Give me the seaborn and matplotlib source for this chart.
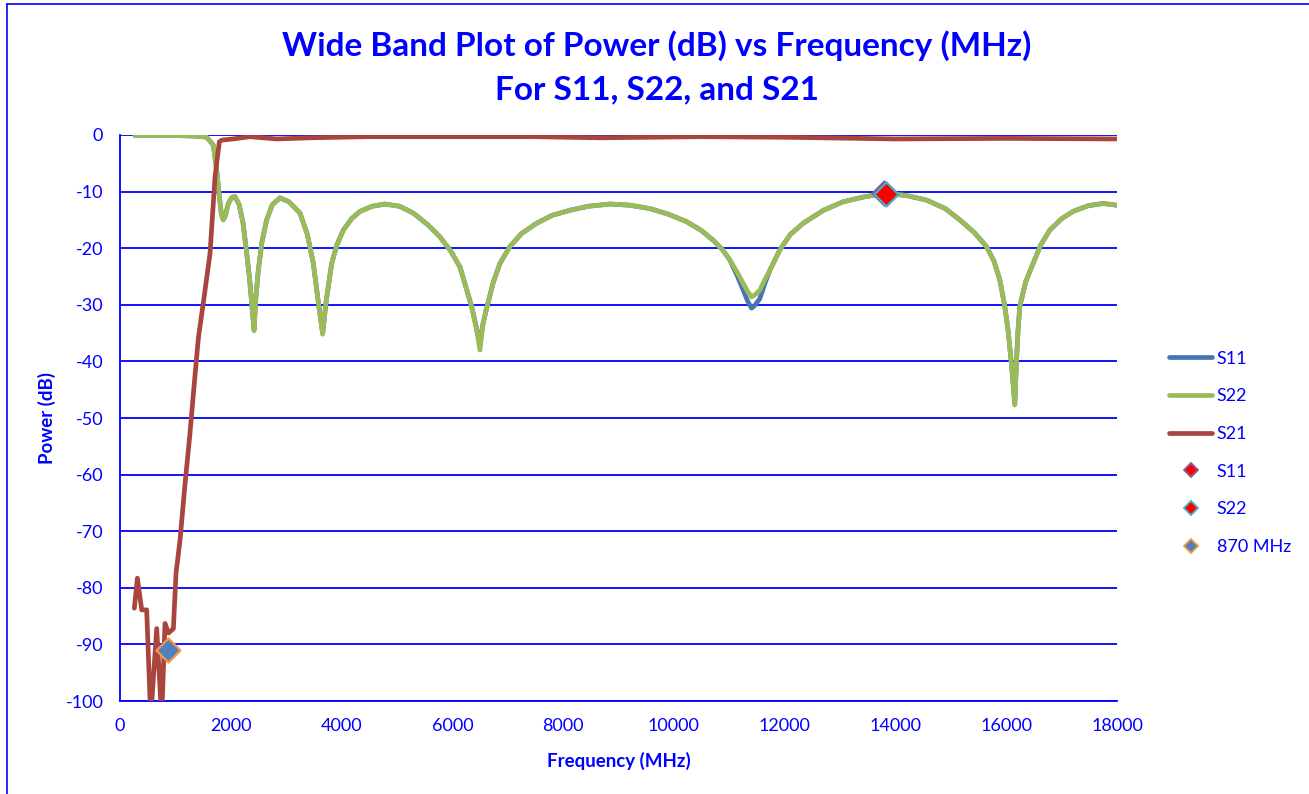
import pandas as pd
import matplotlib
matplotlib.use('Agg')
import matplotlib.pyplot as plt
from matplotlib.lines import Line2D
import seaborn as sns

# Frequences communes pour S11 et S22 (MHz)
freq_mhz = [270, 600, 1000, 1400, 1565, 1685, 1745, 1793, 1830, 1865,
            1900, 1955, 2020, 2076, 2150, 2220, 2287, 2340, 2377, 2420,
            2450, 2497, 2560, 2647, 2750, 2888, 3050, 3249, 3380, 3490,
            3580, 3658, 3720, 3821, 3920, 4031, 4180, 4332, 4550, 4783,
            5050, 5294, 5550, 5776, 5970, 6137, 6348, 6440, 6498, 6550,
            6619, 6740, 6859, 7040, 7250, 7521, 7800, 8123, 8450, 8845,
            9200, 9567, 9900, 10229, 10500, 10709, 10880, 11011, 11140, 11251,
            11330, 11402, 11470, 11552, 11640, 11733, 11913, 12100, 12334, 12700,
            13056, 13450, 13838, 14200, 14560, 14900, 15162, 15420, 15643, 15780,
            15884, 15970, 16034, 16100, 16155, 16185, 16214, 16245, 16350, 16485,
            16620, 16787, 17000, 17207, 17480, 17749, 17990]

s22_db = [-0.1, -0.1, -0.1, -0.2, -0.4, -1.8, -6.2, -10.9, -14.0, -15.0,
          -14.3, -12.1, -11.0, -10.9, -12.3, -15.5, -20.9, -25.5, -29.7, -34.6,
          -29.0, -23.9, -19.0, -15.0, -12.3, -11.1, -11.8, -13.8, -17.5, -22.7,
          -29.5, -35.2, -29.5, -22.7, -19.3, -16.8, -14.8, -13.5, -12.6, -12.2,
          -12.6, -13.8, -15.8, -18.0, -20.5, -23.3, -30.3, -34.5, -38.0, -33.5,
          -30.6, -26.0, -22.7, -19.7, -17.4, -15.6, -14.2, -13.3, -12.6, -12.2,
          -12.4, -13.0, -14.0, -15.3, -16.9, -18.6, -20.3, -22.1, -24.2, -26.2,
          -27.6, -28.6, -28.2, -27.4, -25.6, -23.9, -20.3, -17.6, -15.6, -13.3,
          -11.8, -10.9, -10.3, -10.7, -11.5, -13.0, -15.0, -17.2, -19.7, -22.3,
          -25.6, -30.0, -34.5, -41.0, -47.7, -40.0, -34.5, -30.3, -26.0, -22.7,
          -19.5, -16.8, -14.8, -13.5, -12.5, -12.1, -12.4]

s11_db = [-0.1, -0.1, -0.1, -0.2, -0.4, -1.8, -6.2, -10.9, -14.0, -15.0,
          -14.3, -12.1, -11.0, -10.9, -12.3, -15.5, -20.9, -25.5, -29.7, -34.4,
          -29.0, -23.9, -19.0, -15.0, -12.3, -11.1, -11.8, -13.8, -17.5, -22.7,
          -29.5, -35.0, -29.5, -22.7, -19.3, -16.8, -14.8, -13.5, -12.6, -12.2,
          -12.6, -13.8, -15.8, -18.0, -20.5, -23.3, -30.3, -34.3, -37.0, -33.5,
          -30.6, -26.0, -22.7, -19.7, -17.4, -15.6, -14.2, -13.3, -12.6, -12.2,
          -12.4, -13.0, -14.0, -15.3, -16.9, -18.6, -20.3, -22.1, -24.8, -27.4,
          -29.3, -30.6, -30.0, -28.9, -26.3, -23.9, -20.3, -17.6, -15.6, -13.3,
          -11.8, -10.9, -10.3, -10.7, -11.5, -13.0, -15.0, -17.2, -19.7, -22.3,
          -25.6, -30.0, -34.5, -41.0, -47.5, -40.0, -34.5, -30.3, -26.0, -22.7,
          -19.5, -16.8, -14.8, -13.5, -12.5, -12.1, -12.4]

# S21 (transmission)
s21_freq_mhz = [258, 313, 391, 481, 554, 662, 752, 812, 873, 963,
                1011, 1083, 1170, 1260, 1340, 1414, 1520, 1625, 1715, 1793,
                1841, 2040, 2347, 2828, 3430, 4452, 5650, 7455, 8664, 10469,
                12000, 14000, 16000, 18000]
s21_db = [-83.6, -78.3, -83.9, -83.9, -103.0, -87.2, -103.0, -86.3, -88.0, -87.2,
          -77.4, -71.6, -62.0, -53.0, -44.0, -35.9, -28.5, -20.9, -7.4, -1.2,
          -0.9, -0.7, -0.3, -0.7, -0.5, -0.3, -0.3, -0.3, -0.5, -0.3,
          -0.4, -0.7, -0.6, -0.7]

# Marqueurs
marker_labels = ['S11', 'S22', '870 MHz']
marker_freq_mhz = [13790, 13826, 866]
marker_db = [-10.3, -10.4, -91.0]
marker_faces = ['#FF0000', '#FF0000', '#4F81BD']
marker_edges = ['#7F5F9F', '#4BACC6', '#F79646']

x_ticks = [0, 2000, 4000, 6000, 8000, 10000, 12000, 14000, 16000, 18000]
y_ticks = [-100, -90, -80, -70, -60, -50, -40, -30, -20, -10, 0]

line_colors = {'S11': '#4677B3', 'S22': '#9BBB59', 'S21': '#A9443F'}
txt_blue = '#0000FF'

sns.set_theme(style='white')
plt.rcParams['font.family'] = ['Lato', 'DejaVu Sans']
plt.rcParams['axes.unicode_minus'] = False

fig, ax = plt.subplots(figsize=(13.09, 7.94), dpi=100)
fig.subplots_adjust(left=0.0917, right=0.8533, top=0.830, bottom=0.1171)

refl = pd.DataFrame({'freq': freq_mhz, 'S11': s11_db, 'S22': s22_db})
trans = pd.DataFrame({'freq': s21_freq_mhz, 'S21': s21_db})

lw = 3.4
sns.lineplot(data=refl, x='freq', y='S11', color=line_colors['S11'], lw=lw,
             sort=False, ax=ax, zorder=3)
sns.lineplot(data=refl, x='freq', y='S22', color=line_colors['S22'], lw=lw,
             sort=False, ax=ax, zorder=4)
sns.lineplot(data=trans, x='freq', y='S21', color=line_colors['S21'], lw=lw,
             sort=False, ax=ax, zorder=5)

for lab, fx, fy, fc, ec in zip(marker_labels, marker_freq_mhz, marker_db, marker_faces, marker_edges):
    sns.scatterplot(x=[fx], y=[fy], marker='D', s=150, color=fc, edgecolor=ec,
                    linewidth=1.6, ax=ax, zorder=6)

ax.set_xlim(0, 18000)
ax.set_ylim(-100, 0)
ax.set_xticks(x_ticks)
ax.set_yticks(y_ticks)
ax.yaxis.grid(True, color='#0000FF', lw=1.3)
ax.xaxis.grid(False)
ax.set_axisbelow(True)
for side in ['top', 'right']:
    ax.spines[side].set_visible(False)
for side in ['left', 'bottom']:
    ax.spines[side].set_color('#0000FF')
    ax.spines[side].set_linewidth(1.3)
ax.tick_params(axis='both', length=0, labelcolor=txt_blue, labelsize=13)
ax.tick_params(axis='y', pad=12)
ax.tick_params(axis='x', pad=12)

ax.set_xlabel('Frequency (MHz)', color=txt_blue, fontsize=13.5, fontweight='bold', labelpad=13)
ax.set_ylabel('Power (dB)', color=txt_blue, fontsize=13.5, fontweight='bold', labelpad=7)

fig.text(0.502, 0.943, 'Wide Band Plot of Power (dB) vs Frequency (MHz)', ha='center', va='center',
         color=txt_blue, fontsize=24, fontweight='bold')
fig.text(0.502, 0.887, 'For S11, S22, and S21', ha='center', va='center',
         color=txt_blue, fontsize=24, fontweight='bold')

# Legende
handles = [Line2D([], [], color=line_colors[k], lw=lw) for k in ['S11', 'S22', 'S21']]
for fc, ec in zip(marker_faces, marker_edges):
    handles.append(Line2D([], [], ls='', marker='D', markersize=7, markerfacecolor=fc,
                          markeredgecolor=ec, markeredgewidth=1.3))
leg = fig.legend(handles, ['S11', 'S22', 'S21'] + marker_labels, loc='center left',
                 bbox_to_anchor=(0.893, 0.4295), frameon=False, fontsize=13,
                 handlelength=2.4, handletextpad=0.25, labelspacing=1.2,
                 borderpad=0, borderaxespad=0)
for t in leg.get_texts():
    t.set_color(txt_blue)

# Bordure du graphique
fig.add_artist(Line2D([0.0053, 0.0053], [0, 0.995], color='#0000FF', lw=1.2, transform=fig.transFigure))
fig.add_artist(Line2D([0.0053, 1], [0.995, 0.995], color='#0000FF', lw=1.2, transform=fig.transFigure))

plt.savefig('out.png', dpi=100)
